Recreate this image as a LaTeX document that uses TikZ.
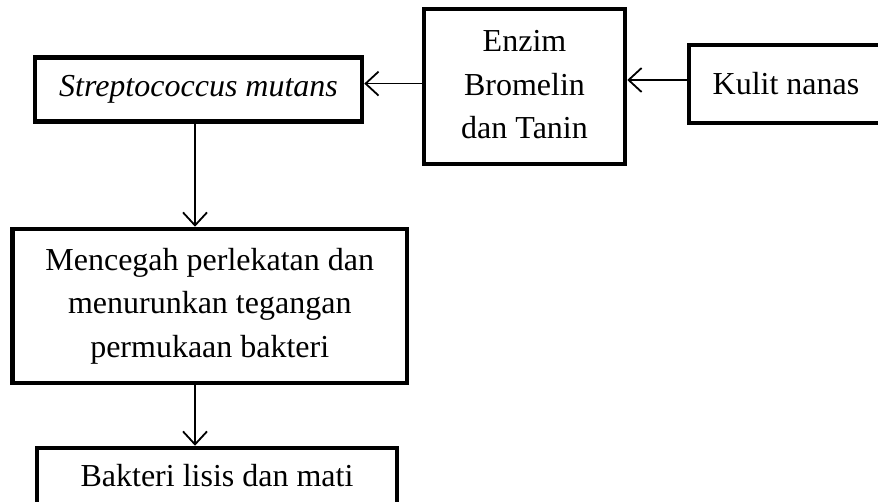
\documentclass[tikz,border=0pt]{standalone}
\usepackage{fontspec}
\setmainfont{Liberation Serif}
\usetikzlibrary{arrows.meta}
\begin{document}
\begin{tikzpicture}[x=1pt,y=-1pt,
  box/.style={draw, line width=4.5pt, align=center, inner sep=0pt,
    font=\fontsize{32}{43.5}\selectfont},
  arr/.style={line width=1.8pt, -{Straight Barb[length=13pt,width=24pt,line width=1.8pt]}}]
\useasboundingbox (0,0) rectangle (878,502);
\node[box, minimum width=327pt, minimum height=64pt] (strep) at (198.5,89.6) {\itshape Streptococcus mutans};
\node[box, minimum width=201pt, minimum height=155pt] (enzim) at (524.5,86.6) {\raisebox{-4pt}{\begin{tabular}{@{}c@{}}Enzim\\[-0.05pt]Bromelin\\dan Tanin\end{tabular}}};
\node[box, minimum width=194pt, minimum height=78pt] (kulit) at (786,84) {Kulit nanas};
\node[box, minimum width=394.5pt, minimum height=154pt] (meng) at (209.75,306) {Mencegah perlekatan dan\\menurunkan tegangan\\permukaan bakteri};
\node[box, minimum width=360pt, minimum height=56pt] (bakt) at (217,476) {Bakteri lisis dan mati};
\draw[arr] ([yshift=4pt]kulit.west) -- ([yshift=4pt]kulit.west -| enzim.east);
\draw[arr] ([yshift=3pt]enzim.west) -- ([yshift=3pt]enzim.west -| strep.east);
\draw[arr] ([xshift=-3.5pt]strep.south) -- ([xshift=-3.5pt]strep.south |- meng.north);
\draw[arr] ([xshift=-14.75pt]meng.south) -- ([xshift=-14.75pt]meng.south |- bakt.north);
\end{tikzpicture}
\end{document}
